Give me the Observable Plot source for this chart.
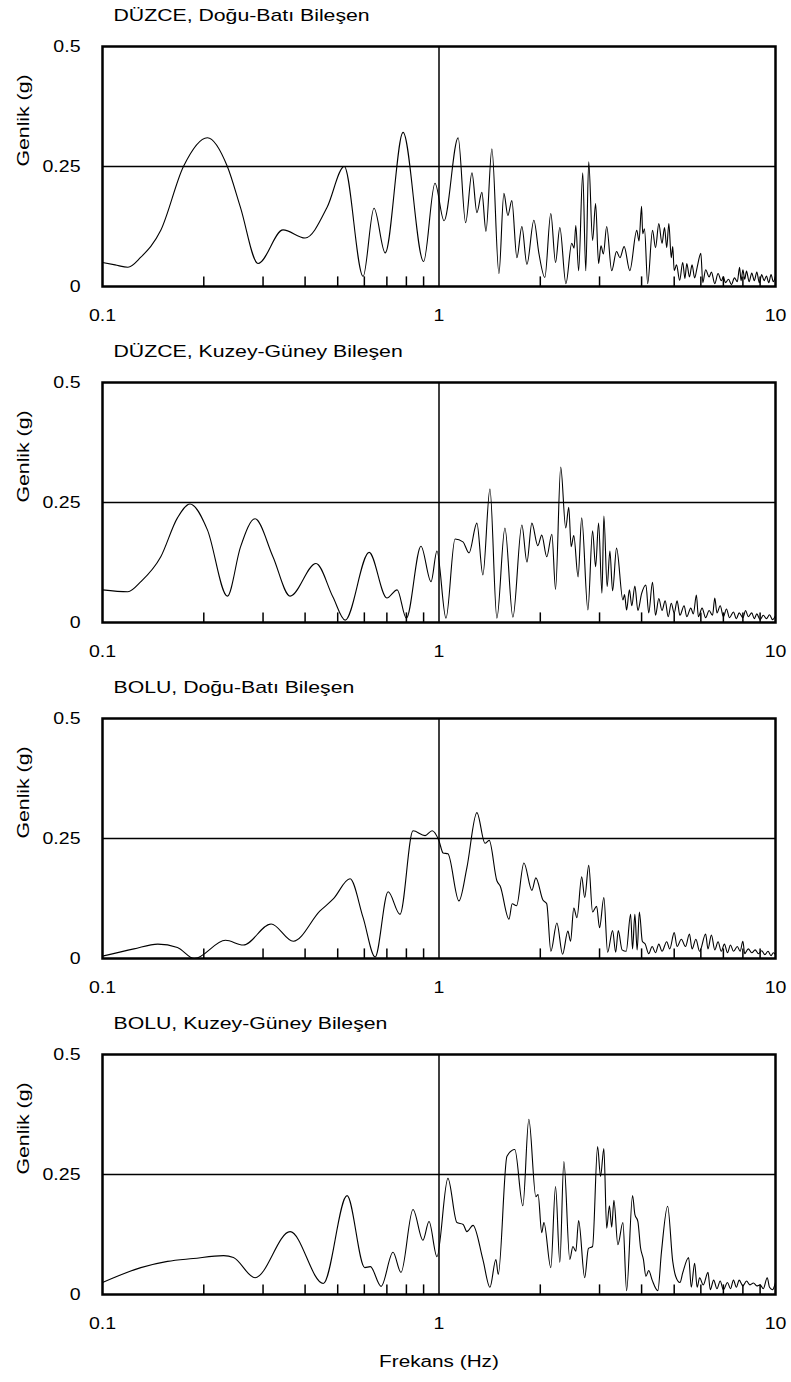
<!DOCTYPE html>
<html>
<head>
<meta charset="utf-8">
<script src="https://cdn.jsdelivr.net/npm/d3@7"></script>
<script src="https://cdn.jsdelivr.net/npm/@observablehq/plot@0.6"></script>
<style>
  html, body { margin: 0; padding: 0; background: #fff; }
  #chart { width: 791px; }
  #chart svg { display: block; }
</style>
</head>
<body>
<div id="chart"></div>
<script>
// ---- labels ----
const titles = [
  "DÜZCE, Doğu-Batı Bileşen",
  "DÜZCE, Kuzey-Güney Bileşen",
  "BOLU, Doğu-Batı Bileşen",
  "BOLU, Kuzey-Güney Bileşen"
];
const yLabel = "Genlik (g)";
const xLabel = "Frekans (Hz)";
const xTicks = [0.1, 1, 10];
const yTicks = [0, 0.25, 0.5];
const minorTicks = [0.2, 0.3, 0.4, 0.5, 0.6, 0.7, 0.8, 0.9, 2, 3, 4, 5, 6, 7, 8, 9];
const gridX = [1];
const gridY = [0.25];

// ---- DÜZCE, Doğu-Batı ----
const freqDuzceEW = [0.100,0.109,0.119,0.130,0.149,0.174,0.205,0.235,0.257,0.290,0.344,0.400,0.465,0.523,0.595,0.641,0.692,0.782,0.900,0.973,
  1.035,1.14,1.20,1.253,1.296,1.341,1.379,1.436,1.507,1.559,1.602,1.646,1.704,1.763,1.825,1.914,1.981,2.063,2.149,2.22,2.286,2.383,2.48,2.52,2.55,2.60,2.674,2.73,2.786,2.86,2.92,2.98,3.03,3.08,3.15,3.26,3.37,3.45,3.55,3.69,3.87,3.93,4.0,4.03,4.08,4.17,4.31,4.40,4.50,4.60,4.68,4.75,4.82,4.90,4.95,5.0,5.08,5.19,5.30,5.38,5.45,5.55,5.65,5.75,5.85,6.0,6.08,6.2,6.35,6.45,6.6,6.75,6.9,7.0,7.1,7.25,7.4,7.55,7.7,7.82,7.9,8.0,8.1,8.2,8.35,8.5,8.65,8.8,8.95,9.1,9.25,9.4,9.55,9.7,9.85,10];
const ampDuzceEW = [0.050,0.045,0.040,0.061,0.117,0.250,0.310,0.250,0.165,0.048,0.118,0.101,0.165,0.250,0.021,0.163,0.070,0.321,0.052,0.215,
  0.137,0.310,0.133,0.237,0.154,0.196,0.115,0.287,0.027,0.194,0.148,0.179,0.060,0.125,0.046,0.138,0.069,0.019,0.152,0.050,0.123,0.006,0.090,0.080,0.127,0.033,0.237,0.033,0.260,0.096,0.173,0.048,0.085,0.068,0.125,0.033,0.073,0.060,0.083,0.033,0.117,0.095,0.167,0.110,0.120,0.006,0.117,0.081,0.131,0.090,0.123,0.081,0.131,0.060,0.083,0.033,0.045,0.013,0.050,0.017,0.048,0.020,0.045,0.018,0.040,0.069,0.008,0.035,0.020,0.030,0.006,0.027,0.012,0.020,0.008,0.015,0.004,0.018,0.010,0.040,0.012,0.035,0.015,0.032,0.010,0.028,0.012,0.030,0.008,0.025,0.012,0.022,0.008,0.025,0.010,0.022];

// ---- DÜZCE, Kuzey-Güney ----
const freqDuzceNS = [0.100,0.119,0.130,0.149,0.167,0.182,0.205,0.235,0.257,0.284,0.321,0.361,0.431,0.484,0.526,0.620,0.700,0.751,0.800,0.884,0.947,0.986,
  1.049,1.116,1.178,1.228,1.296,1.35,1.417,1.486,1.57,1.658,1.763,1.825,1.888,1.966,2.02,2.09,2.165,2.22,2.30,2.38,2.43,2.47,2.515,2.59,2.655,2.77,2.86,2.92,2.98,3.05,3.09,3.16,3.22,3.28,3.37,3.52,3.56,3.61,3.68,3.74,3.82,3.90,4.0,4.12,4.2,4.31,4.4,4.5,4.6,4.7,4.8,4.9,5.0,5.1,5.2,5.35,5.45,5.6,5.7,5.82,5.9,6.05,6.2,6.35,6.5,6.6,6.7,6.85,7.0,7.15,7.3,7.5,7.65,7.8,8.0,8.15,8.3,8.5,8.65,8.8,9.0,9.2,9.4,9.6,9.8,10];
const ampDuzceNS = [0.068,0.064,0.085,0.137,0.218,0.247,0.193,0.055,0.157,0.216,0.137,0.055,0.123,0.053,0.005,0.146,0.051,0.068,0.009,0.159,0.085,0.149,
  0.009,0.174,0.168,0.145,0.207,0.099,0.278,0.009,0.197,0.011,0.203,0.126,0.207,0.160,0.182,0.137,0.184,0.069,0.324,0.197,0.240,0.158,0.181,0.095,0.218,0.026,0.191,0.116,0.207,0.061,0.222,0.075,0.149,0.066,0.155,0.047,0.058,0.026,0.068,0.035,0.076,0.025,0.060,0.078,0.020,0.084,0.015,0.050,0.025,0.045,0.012,0.040,0.020,0.045,0.015,0.035,0.012,0.030,0.018,0.057,0.012,0.030,0.010,0.025,0.015,0.051,0.020,0.035,0.012,0.028,0.010,0.022,0.008,0.020,0.010,0.025,0.012,0.020,0.008,0.018,0.006,0.015,0.008,0.016,0.006,0.014];

// ---- BOLU, Doğu-Batı ----
const freqBoluEW = [0.100,0.124,0.146,0.167,0.1875,0.232,0.262,0.317,0.369,0.443,0.485,0.544,0.595,0.646,0.706,0.766,0.837,0.909,0.954,1.0,
  1.028,1.063,1.146,1.21,1.296,1.37,1.41,1.486,1.52,1.614,1.65,1.70,1.788,1.888,1.94,2.036,2.09,2.15,2.24,2.33,2.415,2.46,2.515,2.57,2.655,2.71,2.786,2.86,2.94,3.0,3.09,3.17,3.28,3.35,3.41,3.50,3.6,3.71,3.76,3.82,3.88,3.94,4.02,4.1,4.2,4.3,4.4,4.5,4.6,4.75,4.85,5.0,5.1,5.25,5.4,5.55,5.65,5.8,5.95,6.2,6.3,6.45,6.6,6.75,6.9,7.05,7.2,7.35,7.5,7.7,7.85,8.0,8.1,8.3,8.5,8.7,8.9,9.1,9.3,9.5,9.7,9.85,10];
const ampBoluEW = [0.005,0.020,0.030,0.023,0.000,0.038,0.028,0.072,0.036,0.099,0.124,0.166,0.085,0.003,0.139,0.092,0.266,0.256,0.266,0.245,
  0.220,0.218,0.120,0.189,0.304,0.240,0.246,0.162,0.151,0.082,0.114,0.110,0.199,0.142,0.168,0.122,0.114,0.015,0.074,0.009,0.057,0.036,0.105,0.085,0.170,0.127,0.194,0.097,0.109,0.064,0.127,0.013,0.058,0.013,0.058,0.018,0.015,0.092,0.020,0.092,0.018,0.097,0.036,0.030,0.010,0.025,0.012,0.030,0.015,0.035,0.020,0.054,0.025,0.040,0.025,0.051,0.020,0.040,0.015,0.051,0.020,0.049,0.018,0.035,0.015,0.030,0.012,0.028,0.015,0.025,0.015,0.036,0.010,0.020,0.012,0.018,0.010,0.016,0.008,0.015,0.006,0.012,0.008];

// ---- BOLU, Kuzey-Güney ----
const freqBoluNS = [0.100,0.130,0.156,0.186,0.229,0.245,0.284,0.361,0.453,0.533,0.602,0.625,0.673,0.730,0.771,0.837,0.896,0.934,0.986,
  1.063,1.13,1.18,1.21,1.262,1.35,1.417,1.476,1.50,1.592,1.68,1.775,1.849,1.94,1.97,2.02,2.05,2.149,2.22,2.286,2.35,2.447,2.50,2.55,2.60,2.71,2.78,2.86,2.96,3.02,3.09,3.15,3.21,3.26,3.31,3.40,3.52,3.61,3.76,3.82,3.90,3.97,4.05,4.12,4.2,4.3,4.47,4.58,4.78,4.95,5.05,5.2,5.3,5.52,5.62,5.75,5.85,5.95,6.1,6.3,6.4,6.55,6.7,6.85,7.0,7.2,7.35,7.5,7.65,7.8,8.0,8.2,8.4,8.6,8.8,9.0,9.2,9.45,9.6,9.8,10];
const ampBoluNS = [0.025,0.056,0.069,0.075,0.081,0.077,0.035,0.131,0.023,0.206,0.056,0.058,0.017,0.088,0.046,0.177,0.113,0.152,0.079,
  0.242,0.150,0.146,0.131,0.144,0.073,0.015,0.073,0.042,0.288,0.302,0.185,0.365,0.204,0.208,0.129,0.150,0.056,0.225,0.067,0.277,0.073,0.100,0.090,0.154,0.035,0.096,0.100,0.308,0.246,0.304,0.138,0.185,0.140,0.196,0.104,0.150,0.008,0.206,0.167,0.152,0.098,0.073,0.038,0.050,0.030,0.008,0.087,0.184,0.069,0.038,0.025,0.045,0.077,0.015,0.065,0.015,0.035,0.020,0.046,0.010,0.030,0.012,0.028,0.010,0.025,0.012,0.030,0.015,0.030,0.018,0.028,0.020,0.024,0.018,0.020,0.012,0.035,0.015,0.010,0.025];

const panels = [
  [freqDuzceEW, ampDuzceEW],
  [freqDuzceNS, ampDuzceNS],
  [freqBoluEW, ampBoluEW],
  [freqBoluNS, ampBoluNS]
];

const FONT = "'Liberation Sans', Arial, Helvetica, sans-serif";
// the reference text is drawn horizontally wider than the font's natural width
const stretchBy = {"tick-lbl": 1.15, "title-lbl": 1.25, "ylab": 1.25, "xlab": 1.22};

function stretchText(svg) {
  for (const [cls, k] of Object.entries(stretchBy)) {
    svg.querySelectorAll(`.${cls} text`).forEach(t => {
      const xa = t.getAttribute("x"), ya = t.getAttribute("y");
      const x = xa && !/em/.test(xa) ? parseFloat(xa) : 0;
      const y = ya && !/em/.test(ya) ? parseFloat(ya) : 0;
      const tr = t.getAttribute("transform") || "";
      t.setAttribute("transform", `${tr} translate(${x},${y}) scale(${k},1) translate(${-x},${-y})`);
    });
  }
}

const chart = document.getElementById("chart");
panels.forEach(([freq, amp], i) => {
  const last = i === panels.length - 1;
  const data = freq.map((f, j) => ({f, a: amp[j]}));
  const svg = Plot.plot({
    width: 791,
    height: last ? 374 : 336,
    marginTop: 46,
    marginBottom: last ? 88 : 50,
    marginLeft: 102,
    marginRight: 16,
    style: {fontFamily: FONT, fontSize: "17px", color: "#000", background: "#fff", overflow: "visible"},
    x: {type: "log", domain: [0.1, 10]},
    y: {domain: [0, 0.5]},
    marks: [
      Plot.ruleX(minorTicks, {y1: 0, y2: 0.02, stroke: "#000", strokeWidth: 1.5}),
      Plot.ruleX(gridX, {stroke: "#000", strokeWidth: 1.5}),
      Plot.ruleY(gridY, {stroke: "#000", strokeWidth: 1.5}),
      Plot.line(data, {x: "f", y: "a", curve: "monotone-x", stroke: "#000", strokeWidth: 1.1}),
      Plot.frame({stroke: "#000", strokeWidth: 2.5}),
      Plot.axisX({ticks: xTicks, tickSize: 0, tickPadding: 22, tickFormat: d => String(d), label: null, fontSize: 17, className: "tick-lbl"}),
      Plot.axisY({ticks: yTicks, tickSize: 0, tickPadding: 22, tickFormat: d => String(d), label: null, fontSize: 17, className: "tick-lbl"}),
      Plot.text([titles[i]], {frameAnchor: "top-left", textAnchor: "start", lineAnchor: "middle", dx: 11, dy: -31, fontSize: 17, fill: "#000", className: "title-lbl"}),
      Plot.text([yLabel], {frameAnchor: "left", lineAnchor: "middle", rotate: -90, dx: -79, fontSize: 17, fill: "#000", className: "ylab"}),
      last ? Plot.text([xLabel], {frameAnchor: "bottom", lineAnchor: "middle", dy: 67, fontSize: 17, fill: "#000", className: "xlab"}) : null
    ]
  });
  stretchText(svg);
  chart.appendChild(svg);
});
</script>
</body>
</html>
